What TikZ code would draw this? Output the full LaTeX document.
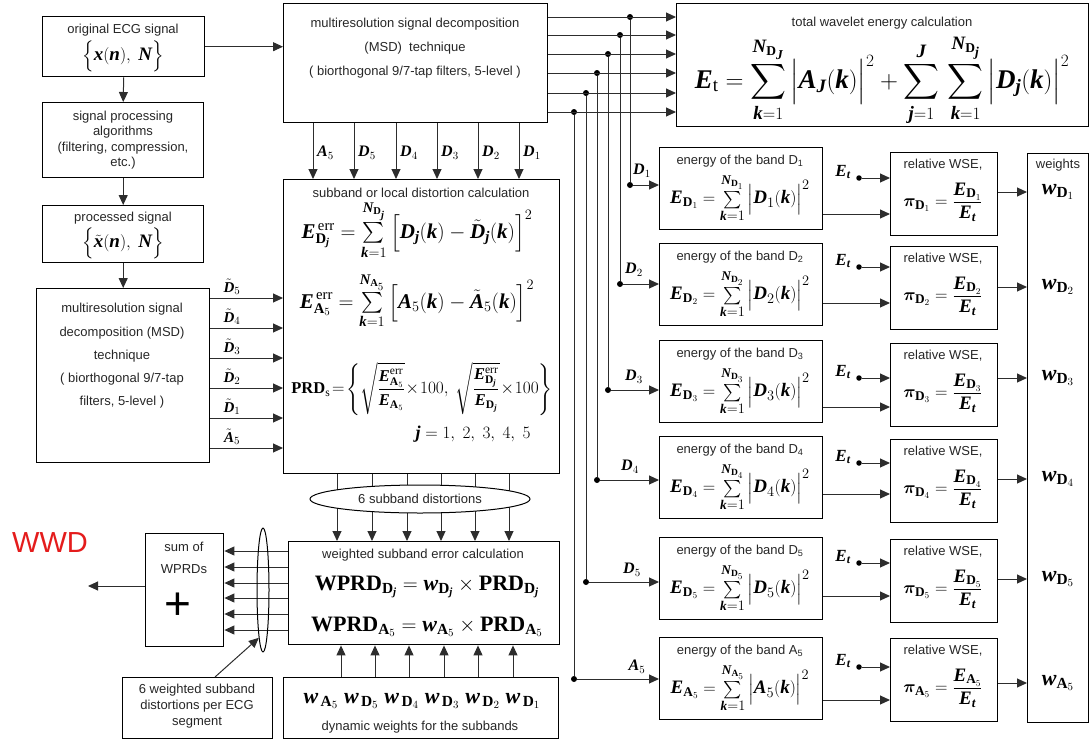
\documentclass[tikz,border=0pt]{standalone}
\usepackage{amsmath}
\usepackage{bm}
\usepackage{fontspec}
\setmainfont{Liberation Serif}
\setsansfont{Liberation Sans}
\usetikzlibrary{arrows.meta,shapes.geometric}
\pgfdeclarelayer{bg}
\pgfsetlayers{bg,main}
\newcommand{\V}[1]{\text{\rmfamily\bfseries\itshape #1}}
\newcommand{\B}[1]{\text{\rmfamily\bfseries #1}}
\newcommand{\fsz}[2]{\fontsize{#1}{#2}\selectfont}
\definecolor{wwdred}{RGB}{228,28,28}
\definecolor{lncol}{RGB}{45,45,45}
\begin{document}
\begin{tikzpicture}[x=1pt,y=-1pt,
  box/.style={draw=black, line width=1.4pt, anchor=north west, inner sep=0pt},
  lbl/.style={font={\sffamily\fsz{13}{15.5}}, align=center, inner sep=0pt, text=black!85},
  arr/.style={draw=lncol, line width=1pt, -{Triangle[length=10pt,width=9pt]}},
  wire/.style={draw=lncol, line width=1pt},
  jdot/.style={circle, fill=black, inner sep=0pt, minimum size=6pt},
  meq/.style={inner sep=0pt, font={\fsz{17}{20}}},
]
\useasboundingbox (0,0) rectangle (1089,742);

% ---------------- left column ----------------
\node[box, minimum width=162pt, minimum height=60pt] (b1) at (42,16) {};
\node[lbl] (b1a) at (123,30) {original ECG signal};
\node[meq, font={\fsz{19}{21}}] (b1b) at (123,56) {$\Big\{\V{x}(\V{n}),\ \V{N}\Big\}$};

\node[box, minimum width=161pt, minimum height=75pt] (b2) at (42,102) {};
\node[lbl, font={\sffamily\fsz{13}{15.3}}] (b2a) at (123,140) {signal processing\\algorithms\\(filtering, compression,\\etc.)};

\node[box, minimum width=161pt, minimum height=57pt] (b3) at (42,205) {};
\node[lbl] (b3a) at (123,218) {processed signal};
\node[meq, font={\fsz{19}{21}}] (b3b) at (123,243) {$\Big\{\tilde{\V{x}}(\V{n}),\ \V{N}\Big\}$};

\node[box, minimum width=173pt, minimum height=174pt] (b4) at (36,288) {};
\node[lbl, font={\sffamily\fsz{13}{23.3}}] (b4a) at (122,356) {multiresolution signal\\decomposition (MSD)\\technique\\( biorthogonal 9/7-tap\\filters, 5-level )};

\draw[arr] (b1.south) -- (b2.north);
\draw[arr] (b2.south) -- (b3.north);
\draw[arr] (b3.south) -- (b4.north -| b3.south);

% ---------------- MSD top ----------------
\node[box, minimum width=264pt, minimum height=119pt] (msd) at (283,3) {};
\node[lbl, font={\sffamily\fsz{13}{24}}] (msda) at (415,48) {multiresolution signal decomposition\\(MSD)\ \ technique\\( biorthogonal 9/7-tap filters, 5-level )};
\draw[arr] (b1.east) -- (msd.west |- b1.east);

% ---------------- subband distortion ----------------
\node[box, minimum width=276pt, minimum height=294pt] (sub) at (283,179) {};
\node[lbl] (suba) at (421,193) {subband or local distortion calculation};
\node[meq, font={\fsz{21}{24}}] (sube1) at (417,230) {$\V{E}^{\,\mathrm{err}}_{\B{D}_{\V{j}}} = \sum\limits_{\V{k}=1}^{\V{N}_{\B{D}_{\V{j}}}} \Big[\V{D}_{\V{j}}(\V{k}) - \tilde{\V{D}}_{\V{j}}(\V{k})\Big]^2$};
\node[meq, font={\fsz{21}{24}}] (sube2) at (417,301) {$\V{E}^{\,\mathrm{err}}_{\B{A}_5} = \sum\limits_{\V{k}=1}^{\V{N}_{\B{A}_5}} \Big[\V{A}_5(\V{k}) - \tilde{\V{A}}_5(\V{k})\Big]^2$};
\node[meq, font={\fsz{16.5}{20}}] (sube3) at (422,389) {$\B{PRD}_{\text{\rmfamily s}}\! = \!\left\{ \sqrt{\dfrac{\V{E}^{\mathrm{err}}_{\B{A}_5}}{\V{E}_{\B{A}_5}}}\!\times\! 100,\ \sqrt{\dfrac{\V{E}^{\mathrm{err}}_{\B{D}_{\V{j}}}}{\V{E}_{\B{D}_{\V{j}}}}}\!\times\! 100 \right\}$};
\node[meq, font={\fsz{18}{20}}] (sube4) at (473,434) {$\V{j} = 1,\ 2,\ 3,\ 4,\ 5$};

% outputs of lower MSD into subband box
\foreach \eI/\y/\lab in {1/298/{\tilde{\V{D}}_5}, 2/328/{\tilde{\V{D}}_4}, 3/358/{\tilde{\V{D}}_3}, 4/388/{\tilde{\V{D}}_2}, 5/418/{\tilde{\V{D}}_1}, 6/448/{\tilde{\V{A}}_5}} {
  \coordinate (t\eI) at (250,\y);
  \draw[arr] (b4.east |- t\eI) -- (sub.west |- t\eI);
  \node[meq, font={\fsz{15}{17}}] (tl\eI) at (232,\y-11) {$\lab$};
}

% MSD bottom outputs
\foreach \eI/\x/\lab in {1/313/{\V{A}_5}, 2/354/{\V{D}_5}, 3/396/{\V{D}_4}, 4/437/{\V{D}_3}, 5/478/{\V{D}_2}, 6/519/{\V{D}_1}} {
  \coordinate (a\eI) at (\x,150);
  \draw[arr] (msd.south -| a\eI) -- (sub.north -| a\eI);
  \node[meq, font={\fsz{16}{17}}, anchor=west] (al\eI) at (\x+4,153) {$\lab$};
}

% ---------------- weighted subband error ----------------
\node[draw=black, line width=1pt, ellipse, fill=white, minimum width=220pt, minimum height=28pt, inner sep=0pt, font={\sffamily\fsz{13}{15}}, text=black!85] (ell1) at (420,499) {6 subband distortions};

\node[box, minimum width=271pt, minimum height=103pt] (wgt) at (288,541) {};
\node[lbl] (wgta) at (423,555) {weighted subband error calculation};
\node[meq, font={\fsz{22}{24}}] (wgte1) at (427,587) {$\B{WPRD}_{\B{D}_{\V{j}}} = \V{w}_{\B{D}_{\V{j}}} \times \B{PRD}_{\B{D}_{\V{j}}}$};
\node[meq, font={\fsz{22}{24}}] (wgte2) at (427,627) {$\B{WPRD}_{\B{A}_5} = \V{w}_{\B{A}_5} \times \B{PRD}_{\B{A}_5}$};

\begin{pgfonlayer}{bg}
\foreach \eI/\x in {1/337, 2/372, 3/407, 4/441, 5/475, 6/509} {
  \coordinate (c\eI) at (\x,480);
  \draw[wire] (sub.south -| c\eI) -- (ell1.center -| c\eI);
  \draw[arr] (ell1.center -| c\eI) -- (wgt.north -| c\eI);
}
\end{pgfonlayer}

\node[box, minimum width=275pt, minimum height=61pt] (dyn) at (283,677) {};
\node[meq, font={\fsz{22}{24}}] (dyna) at (422,701) {$\V{w}_{\,\B{A}_5}\;\V{w}_{\,\B{D}_5}\;\V{w}_{\,\B{D}_4}\;\V{w}_{\,\B{D}_3}\;\V{w}_{\,\B{D}_2}\;\V{w}_{\,\B{D}_1}$};
\node[lbl] (dynb) at (420,727) {dynamic weights for the subbands};
\foreach \eI/\x in {1/341, 2/375, 3/409, 4/444, 5/478, 6/513} {
  \coordinate (d\eI) at (\x,660);
  \draw[arr] (dyn.north -| d\eI) -- (wgt.south -| d\eI);
}

% ---------------- sum of WPRDs ----------------
\node[box, minimum width=78pt, minimum height=113pt] (sum) at (145,533) {};
\node[lbl] (suma) at (184,547) {sum of};
\node[lbl] (sumb) at (184,569) {WPRDs};
\node[font={\sffamily\fsz{46}{46}}, inner sep=0pt] (plus) at (178,606) {+};
\foreach \eI/\y in {1/551, 2/567, 3/583, 4/598, 5/614, 6/630} {
  \coordinate (s\eI) at (250,\y);
  \draw[arr] (wgt.west |- s\eI) -- (sum.east |- s\eI);
}
\node[draw=black, line width=1pt, ellipse, minimum width=12pt, minimum height=124pt, inner sep=0pt] (ell2) at (263,590) {};
\coordinate (out) at (88,586);
\draw[arr] (sum.west |- out) -- (out);
\node[font={\sffamily\fsz{29}{32}}, text=wwdred, inner sep=0pt] (wwd) at (50,543) {WWD};

\node[box, minimum width=150pt, minimum height=61pt] (note) at (122,677) {};
\node[lbl, font={\sffamily\fsz{13}{16}}] (notea) at (197,706) {6 weighted subband\\distortions per ECG\\segment};
\coordinate (nt) at (215,660);
\draw[arr] (note.north -| nt) -- (ell2.265);

% ---------------- total energy ----------------
\node[box, minimum width=412pt, minimum height=123pt] (tot) at (676,3) {};
\node[lbl] (tota) at (882,23) {total wavelet energy calculation};
\node[meq, font={\fsz{27}{30}}] (tote) at (882,80) {$\displaystyle \V{E}_{\mathrm{t}} = \sum_{\V{k}=1}^{\V{N}_{\B{D}_{\V{J}}}} \Big|\V{A}_{\V{J}}(\V{k})\Big|^2 + \sum_{\V{j}=1}^{\V{J}}\,\sum_{\V{k}=1}^{\V{N}_{\B{D}_{\V{j}}}} \Big|\V{D}_{\V{j}}(\V{k})\Big|^2$};

% ---------------- energy and relative boxes ----------------
\foreach \eI/\eT/\eN/\eS in {1/147/D/1, 2/243/D/2, 3/340/D/3, 4/436/D/4, 5/537/D/5, 6/637/A/5} {
  \node[box, minimum width=163pt, minimum height=82pt] (en\eI) at (659,\eT) {};
  \node[lbl] (en\eI t) at (740,\eT+14) {energy of the band \eN\textsubscript{\eS}};
  \node[meq, font={\fsz{19}{21}}] (en\eI m) at (740,\eT+51) {$\V{E}_{\B{\eN}_{\eS}} = \sum\limits_{\V{k}=1}^{\V{N}_{\B{\eN}_{\eS}}} \Big|\V{\eN}_{\eS}(\V{k})\Big|^2$};
}
\foreach \eI/\eT/\eN/\eS in {1/152/D/1, 2/246/D/2, 3/343/D/3, 4/439/D/4, 5/539/D/5, 6/638/A/5} {
  \node[box, minimum width=107pt, minimum height=83pt] (rel\eI) at (890,\eT) {};
  \node[lbl] (rel\eI t) at (943,\eT+13) {relative WSE,};
  \node[meq, font={\fsz{19}{21}}] (rel\eI m) at (943,\eT+50) {$\bm{\pi}_{\B{\eN}_{\eS}} = \dfrac{\V{E}_{\B{\eN}_{\eS}}}{\V{E}_{\V{t}}}$};
}

\node[box, minimum width=61pt, minimum height=569pt] (wts) at (1027,153) {};
\node[lbl] (wtsa) at (1058,165) {weights};

% buses from MSD
\foreach \eI/\x/\ya/\yb/\lx/\ly/\lab in {1/630/17/185/642/171/{\V{D}_1}, 2/620/35/284/634/270/{\V{D}_2}, 3/608/54/390/634/377/{\V{D}_3}, 4/597/73/480/630/467/{\V{D}_4}, 5/586/93/582/632/570/{\V{D}_5}, 6/574/112/679/637/667/{\V{A}_5}} {
  \node[jdot] (j\eI) at (\x,\ya) {};
  \node[jdot] (k\eI) at (\x,\yb) {};
  \draw[arr] (msd.east |- j\eI) -- (tot.west |- j\eI);
  \draw[wire] (j\eI) -- (k\eI);
  \draw[arr] (k\eI) -- (en\eI.west |- k\eI);
  \node[meq, font={\fsz{16}{17}}] (bl\eI) at (\lx,\ly) {$\lab$};
}

% E_t inputs, energy -> relative, relative -> weights
\foreach \eI/\ye/\yo/\yr/\eN/\eS in {1/178/214/192/D/1, 2/267/303/287/D/2, 3/378/407/378/D/3, 4/463/494/479/D/4, 5/563/596/579/D/5, 6/667/700/683/A/5} {
  \node[jdot, minimum size=5.5pt] (e\eI) at (859,\ye) {};
  \node[meq, font={\fsz{17}{18}}] (el\eI) at (843,\ye-6) {$\V{E}_{\V{t}}$};
  \draw[arr] (e\eI) -- (rel\eI.west |- e\eI);
  \coordinate (eo\eI) at (850,\yo);
  \draw[arr] (en\eI.east |- eo\eI) -- (rel\eI.west |- eo\eI);
  \coordinate (ro\eI) at (1010,\yr);
  \draw[arr] (rel\eI.east |- ro\eI) -- (wts.west |- ro\eI);
  \node[meq, font={\fsz{22}{24}}] (w\eI) at (1058,\yr) {$\V{w}_{\B{\eN}_{\eS}}$};
}
\end{tikzpicture}
\end{document}
